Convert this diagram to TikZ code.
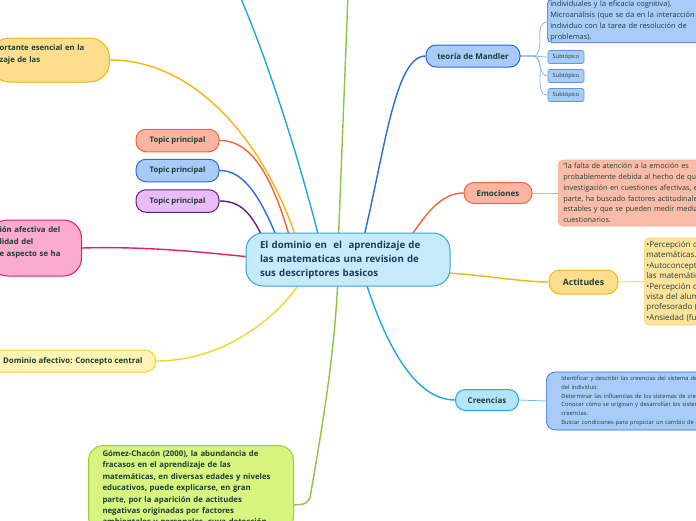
\documentclass[tikz,border=0pt]{standalone}
\usepackage{fontspec}
\setmainfont{Open Sans}
\usetikzlibrary{calc}
\pgfdeclarelayer{bg}
\pgfsetlayers{bg,main}

\definecolor{ink}{HTML}{1D3F36}
\definecolor{hubink}{HTML}{1B3A5C}
\definecolor{hubfill}{HTML}{C5EAFB}
\definecolor{hubline}{HTML}{3A9FDC}
\definecolor{bluefill}{HTML}{A8CBFA}
\definecolor{blueline}{HTML}{2B6DD6}
\definecolor{subline}{HTML}{5C97EA}
\definecolor{sublink}{HTML}{8DB5F2}
\definecolor{redline}{HTML}{F0643C}
\definecolor{salmonfill}{HTML}{F9B5A2}
\definecolor{salmonnote}{HTML}{F9BCA9}
\definecolor{salmonline}{HTML}{F5A68E}
\definecolor{orangeline}{HTML}{F6B40E}
\definecolor{orangefill}{HTML}{FEDD8C}
\definecolor{yellownote}{HTML}{FEE39C}
\definecolor{yellowline}{HTML}{F9D06A}
\definecolor{cyanfill}{HTML}{B4E4FB}
\definecolor{cyanline}{HTML}{21A6E0}
\definecolor{purplefill}{HTML}{E9BCF9}
\definecolor{purpleline}{HTML}{5E2182}
\definecolor{pinkfill}{HTML}{FCAAD0}
\definecolor{pinkline}{HTML}{E9196E}
\definecolor{paleyellow}{HTML}{FFF4B3}
\definecolor{goldline}{HTML}{EFD722}
\definecolor{limefill}{HTML}{D6F47F}
\definecolor{limeline}{HTML}{9BCB3D}
\definecolor{greenlink}{HTML}{8CC63F}

\begin{document}
\begin{tikzpicture}
		[%%%%%%%%%%%%%%%%%%%%%%%%%%%%%%
		x=1pt,y=-1pt,
		hub/.style={rectangle,rounded corners=17pt,draw=hubline,fill=hubfill,line width=1pt,
			minimum width=204pt,minimum height=53pt,text width=176pt,inner xsep=14pt,
			align=left,text=hubink,font=\fontsize{9.7}{14}\selectfont\bfseries},
		pill/.style={rectangle,rounded corners=10pt,draw,line width=1pt,inner sep=0pt,
			text=ink,font=\fontsize{8}{9}\selectfont\bfseries},
		sub/.style={rectangle,rounded corners=2pt,draw=subline,fill=bluefill,line width=0.6pt,
			minimum width=36pt,minimum height=13pt,inner sep=0pt,text=ink,
			font=\fontsize{5.7}{6}\selectfont},
		note/.style={rectangle,rounded corners=5pt,draw,line width=0.7pt,anchor=west,
			align=left,inner xsep=5pt,inner ysep=3pt,text=ink},
		link/.style={line width=1.4pt},
		thin/.style={line width=0.8pt},
		]%%%%%%%%%%%%%%%%%%%%%%%%%%%%%%
		\useasboundingbox (0,0) rectangle (696,520);
		\clip (0,0) rectangle (696,520);
		
		% centre
		\node[hub] (dom) at (348,259.5) {El dominio en\ \ el\ \ aprendizaje de\\las matematicas una revision de\\sus descriptores basicos};
		
		% right side
		\node[pill,fill=bluefill,draw=blueline,minimum width=94pt,minimum height=22pt] (mandler) at (473,56) {teoría de Mandler};
		\node[note,anchor=south west,fill=bluefill,draw=blueline,text width=200pt,inner xsep=3pt,inner ysep=1.5pt,
			font=\fontsize{7.4}{11}\selectfont] (mandnote) at (547,43) {individuales y la eficacia cognitiva).\\Microanálisis (que se da en la interacción\\individuo con la tarea de resolución de\\problemas).};
		\foreach \y [count=\i] in {57,76,95}
			\node[sub] (sub\i) at (566,\y) {Subtópico};
		
		\node[pill,fill=salmonfill,draw=redline,minimum width=68pt,minimum height=21pt] (emo) at (498,193) {Emociones};
		\node[note,fill=salmonnote,draw=salmonline,text width=200pt,minimum height=66pt,
			font=\fontsize{7.3}{10.7}\selectfont] (emonote) at (558,193) {“la falta de atención a la emoción es\\probablemente debida al hecho de que la\\investigación en cuestiones afectivas, en gran\\parte, ha buscado factores actitudinales\\estables y que se pueden medir mediante\\cuestionarios.};
		
		\node[pill,fill=orangefill,draw=orangeline,rounded corners=11pt,minimum width=69pt,minimum height=24pt,
			font=\fontsize{8.7}{10}\selectfont\bfseries] (act) at (583.5,282) {Actitudes};
		\node[note,fill=yellownote,draw=yellowline,text width=200pt,minimum height=87pt,inner xsep=2pt,
			font=\fontsize{8}{10.4}\selectfont] (actnote) at (644,281.5) {•Percepción de sí mismo como aprendiz de\\matemáticas.\\•Autoconcepto relativo a\\las matemáticas.\\•Percepción del profesor desde el punto de\\vista del alumno y actitudes hacia el\\profesorado (...)\\•Ansiedad (fuentes)};
		
		\node[pill,fill=cyanfill,draw=cyanline,minimum width=63pt,minimum height=21pt] (cre) at (487,400) {Creencias};
		\node[note,fill=bluefill,draw=blueline,rounded corners=9pt,text width=220pt,minimum height=58pt,inner xsep=15pt,
			font=\fontsize{5.8}{8.8}\selectfont] (crenote) at (546,401) {Identificar y describir las creencias del sistema de creencias\\del individuo.\\Determinar las influencias de los sistemas de creencias\\Conocer cómo se originan y desarrollan los sistemas de\\creencias.\\Buscar condiciones para propiciar un cambio de creencias.};
		
		% left side
		\foreach \y/\f/\d [count=\i] in {140.5/salmonfill/redline,170.5/bluefill/blueline,201/purplefill/purpleline}
			\node[pill,fill=\f,draw=\d,minimum width=83pt,minimum height=22.5pt,
				font=\fontsize{7.7}{8}\selectfont\bfseries] (topic\i) at (177.5,\y) {Topic principal};
		
		\node[pill,anchor=east,fill=orangefill,draw=orangeline,rounded corners=20pt,minimum height=44pt,
			text width=100pt,inner xsep=10pt,align=left,font=\fontsize{7.7}{12}\selectfont\bfseries] (imp) at (110,60) {ortante esencial en la\\zaje de las\\\mbox{}};
		\node[pill,anchor=east,fill=pinkfill,draw=pinkline,rounded corners=18pt,minimum height=56pt,
			text width=72pt,inner xsep=10pt,align=left,font=\fontsize{7.8}{12}\selectfont\bfseries] (pink) at (82,248) {ión afectiva del\\lidad del\\e aspecto se ha\\\mbox{}};
		\node[pill,anchor=east,fill=paleyellow,draw=goldline,minimum height=22pt,inner xsep=13pt,
			font=\fontsize{7.9}{9}\selectfont\bfseries] (domaf) at (156,361) {Dominio afectivo: Concepto central};
		\node[note,anchor=north west,fill=limefill,draw=limeline,rounded corners=15pt,line width=1pt,
			text width=177pt,inner xsep=14pt,inner ysep=5pt,font=\fontsize{7.8}{11.4}\selectfont\bfseries] (gomez) at (88,445) {Gómez-Chacón (2000), la abundancia de\\fracasos en el aprendizaje de las\\matemáticas, en diversas edades y niveles\\educativos, puede explicarse, en gran\\parte, por la aparición de actitudes\\negativas originadas por factores\\ambientales y personales, cuya detección};
		
		% branches that leave the page
		\coordinate (upleft) at (228,-30);
		\coordinate (upmid) at (349,-30);
		
		\begin{pgfonlayer}{bg}
		\draw[link,cyanline] (upleft) .. controls (262,40) and (300,160) .. ($(dom.center)+(-26,-9.5)$);
		\draw[link,greenlink] (upmid) -- ($(dom.center)+(-10,-9.5)$);
		\draw[link,orangeline] (imp.east) .. controls (200,60) and (270,150) .. ($(dom.center)+(-48,-9.5)$);
		\draw[link,redline] (topic1.east) .. controls (255,140) and (275,185) .. ($(dom.center)+(-56,-14.5)$);
		\draw[link,blueline] (topic2.east) .. controls (245,170) and (262,200) .. ($(dom.center)+(-68,-14.5)$);
		\draw[link,purpleline] (topic3.east) .. controls (240,201) and (252,212) .. ($(dom.center)+(-82,-14.5)$);
		\draw[link,pinkline] (pink.east) .. controls (150,246) and (210,253) .. ($(dom.center)+(-88,-1.5)$);
		\draw[link,goldline] (domaf.east) .. controls (230,361) and (285,310) .. ($(dom.center)+(-43,15.5)$);
		\draw[link,greenlink] ($(dom.center)+(-10,15.5)$) .. controls (335,360) and (318,450) .. (310,498)
			.. controls (306,504) .. ($(gomez.north east)+(0,60)$);
		\draw[link,cyanline] ($(dom.center)+(14,10.5)$) .. controls (380,330) and (410,400) .. (cre.west);
		\draw[link,blueline] ($(dom.center)+(14,-14.5)$) .. controls (385,150) and (395,56) .. (mandler.west);
		\draw[link,redline] ($(dom.center)+(57,-14.5)$) .. controls (425,215) and (440,193) .. (emo.west);
		\draw[link,orangeline] ($(dom.center)+(82,12.5)$) .. controls (480,274) and (520,282) .. (act.west);
		
		\draw[thin,salmonline] (emo.east) -- (emonote.west);
		\draw[thin,yellowline] (act.east) -- (actnote.west);
		\draw[thin,cyanline!70] (cre.east) -- (crenote.west);
		\draw[thin,sublink] (mandler.east) -- ++(12,0) to[out=0,in=180] (547,22);
		\foreach \i in {1,2,3}
			\draw[thin,sublink] (mandler.east) -- ++(12,0) to[out=0,in=180] (sub\i.west);
		\end{pgfonlayer}
		\end{tikzpicture}
\end{document}
